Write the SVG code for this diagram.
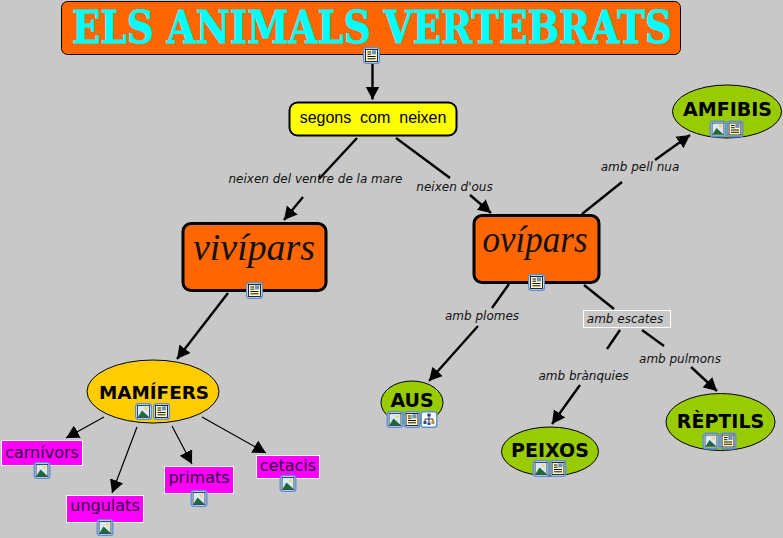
<svg xmlns="http://www.w3.org/2000/svg" xmlns:xlink="http://www.w3.org/1999/xlink" width="783" height="538" viewBox="0 0 783 538">
<style>
.lk{fill:none;stroke:#000;stroke-width:2.4}
.th{fill:none;stroke:#000;stroke-width:1.2}
.lb{font:italic 12px "DejaVu Sans",sans-serif;fill:#111;text-anchor:middle}
.ov{font:bold 19px "DejaVu Sans",sans-serif;fill:#000;text-anchor:middle}
.pk{fill:#f0f;stroke:#fff;stroke-width:1}
.pt{font:16px "DejaVu Sans",sans-serif;fill:#30003a;text-anchor:middle}
.gr{fill:#99cc00;stroke:#000;stroke-width:1}
.sc{font:italic 38px "Liberation Serif",serif;fill:#111;text-anchor:middle}
</style>
<defs>
<marker id="a" markerUnits="userSpaceOnUse" markerWidth="15" markerHeight="16" refX="13" refY="8" orient="auto"><path d="M0 1L13 8L0 15z" fill="#000"/></marker>
<g id="bx"><rect x=".7" y=".7" width="15.6" height="15.6" rx="2.5" fill="#fff" stroke="#5a8fd8" stroke-width="1.4"/></g>
<g id="im"><use xlink:href="#bx"/><rect x="2.500" y="2.500" width="12" height="12" fill="#d8e8f8" stroke="#123" stroke-width=".8"/><circle cx="10.800" cy="5.500" r="1.600" fill="#f0d860"/><path d="M3 14L7 7.500L14 14z" fill="#1f6a35"/></g>
<g id="dc"><use xlink:href="#bx"/><rect x="2.500" y="2.500" width="12" height="12" fill="#fff8c8" stroke="#111" stroke-width=".9"/><path d="M4.500 5H8M4.500 7.200H8M4.500 9.500H12.500M4.500 11.800H12.500" stroke="#111" stroke-width="1"/><rect x="8.800" y="3.400" width="4.200" height="4" fill="#6a90c0"/></g>
<g id="mp"><use xlink:href="#bx"/><path d="M8.500 5V8M4.500 10V8H12.500V10M8.500 8V12" stroke="#223" stroke-width=".9" fill="none"/><rect x="6.800" y="2.600" width="3.400" height="2.800" fill="#2a4a9a"/><rect x="3" y="10" width="3" height="3" fill="#2a4a9a"/><rect x="11" y="10" width="3" height="3" fill="#c0903a"/><rect x="7" y="11.500" width="3" height="2.500" fill="#2a4a9a"/></g>
</defs>
<rect width="783" height="538" fill="#c8c8c8"/>
<g id="connectors">
<path class="lk" marker-end="url(#a)" d="M372.500 64V99.500"/>
<path class="lk" d="M357 138L319 179"/>
<path class="lk" marker-end="url(#a)" d="M303 197L284 220"/>
<path class="lk" d="M396 138L450 178"/>
<path class="lk" marker-end="url(#a)" d="M470 195L491 213"/>
<path class="lk" d="M582 214L622 182"/>
<path class="lk" marker-end="url(#a)" d="M655 160L690 135"/>
<path class="lk" marker-end="url(#a)" d="M228 293L177 359"/>
<path class="lk" d="M509 284L492 308"/>
<path class="lk" marker-end="url(#a)" d="M478 326L429 381"/>
<path class="lk" d="M584 285L614 309"/>
<path class="lk" d="M620 330L607 349"/>
<path class="lk" marker-end="url(#a)" d="M580 385L552 424"/>
<path class="lk" d="M642 330L664 346"/>
<path class="lk" marker-end="url(#a)" d="M691 367L717 391"/>
<path class="th" marker-end="url(#a)" d="M104 417L66 438"/>
<path class="th" marker-end="url(#a)" d="M137 427L112 493"/>
<path class="th" marker-end="url(#a)" d="M172 426L192 464"/>
<path class="th" marker-end="url(#a)" d="M202 417L266 453"/>
</g>
<g id="labels">
<text class="lb" x="315.500" y="183">neixen del ventre de la mare</text>
<text class="lb" x="454.500" y="191">neixen d'ous</text>
<text class="lb" x="640" y="171">amb pell nua</text>
<text class="lb" x="482" y="320">amb plomes</text>
<g id="escates"><rect x="583.500" y="310.500" width="87" height="17" fill="#c8c8c8" stroke="#fff" stroke-width="1"/><text class="lb" x="625" y="323">amb escates</text></g>
<text class="lb" x="583.500" y="380">amb brànquies</text>
<text class="lb" x="680" y="363">amb pulmons</text>
</g>
<g id="title"><rect x="61.500" y="1.500" width="619" height="53" rx="6" fill="#ff6600" stroke="#000" stroke-width="1"/>
<text x="72" y="43" font-family="'DejaVu Serif',serif" font-weight="bold" font-size="44" fill="#00ffff" stroke="#00ffff" stroke-width=".8" textLength="600" lengthAdjust="spacingAndGlyphs">ELS ANIMALS VERTEBRATS</text>
<use xlink:href="#dc" x="363" y="47"/></g>
<g id="segons"><rect x="289.500" y="102.500" width="167" height="33" rx="8" fill="#ffff00" stroke="#000" stroke-width="2"/>
<text x="373" y="123" font-family="'Liberation Sans',sans-serif" font-size="16" fill="#000" text-anchor="middle" xml:space="preserve">segons  com  neixen</text></g>
<g id="vivipars"><rect x="183" y="223.500" width="143" height="67" rx="8" fill="#ff6600" stroke="#000" stroke-width="3"/>
<text class="sc" x="254" y="260" textLength="122" lengthAdjust="spacingAndGlyphs">vivípars</text>
<use xlink:href="#dc" x="246" y="282"/></g>
<g id="ovipars"><rect x="474" y="215.500" width="125" height="67" rx="8" fill="#ff6600" stroke="#000" stroke-width="3"/>
<text class="sc" x="535" y="252" textLength="105" lengthAdjust="spacingAndGlyphs">ovípars</text>
<use xlink:href="#dc" x="528" y="274"/></g>
<g id="amfibis"><ellipse class="gr" cx="727" cy="111.500" rx="54.500" ry="26.500"/><text class="ov" x="727.500" y="116">AMFIBIS</text><use xlink:href="#im" x="709.500" y="120.500"/><use xlink:href="#dc" x="726.500" y="120.500"/></g>
<g id="mamifers"><ellipse cx="153" cy="391.500" rx="66" ry="31.500" fill="#ffcc00" stroke="#000" stroke-width="1"/><text class="ov" style="font-size:18.400px" x="154" y="399">MAMÍFERS</text><use xlink:href="#im" x="135" y="403"/><use xlink:href="#dc" x="153" y="403"/></g>
<g id="aus"><ellipse class="gr" cx="412" cy="402.500" rx="31" ry="21.500"/><text class="ov" x="412" y="407">AUS</text><use xlink:href="#im" x="386.500" y="411"/><use xlink:href="#dc" x="403.500" y="411"/><use xlink:href="#mp" x="420.500" y="411"/></g>
<g id="peixos"><ellipse class="gr" cx="550" cy="451.500" rx="48.500" ry="24.500"/><text class="ov" x="550" y="456.500">PEIXOS</text><use xlink:href="#im" x="532.500" y="460"/><use xlink:href="#dc" x="549.500" y="460"/></g>
<g id="reptils"><ellipse class="gr" cx="720.500" cy="422" rx="54.500" ry="28.500"/><text class="ov" x="720.500" y="428">RÈPTILS</text><use xlink:href="#im" x="702.500" y="432.500"/><use xlink:href="#dc" x="719.500" y="432.500"/></g>
<g id="carnivors"><rect class="pk" x="1.500" y="440.500" width="81" height="25"/><text class="pt" x="42" y="458">carnívors</text><use xlink:href="#im" x="33.500" y="462"/></g>
<g id="ungulats"><rect class="pk" x="66.500" y="495.500" width="77" height="27"/><text class="pt" x="105" y="511">ungulats</text><use xlink:href="#im" x="96.500" y="519"/></g>
<g id="primats"><rect class="pk" x="164.500" y="466.500" width="69" height="27"/><text class="pt" x="199" y="483">primats</text><use xlink:href="#im" x="190.500" y="490"/></g>
<g id="cetacis"><rect class="pk" x="256.500" y="455.500" width="63" height="23"/><text class="pt" x="288" y="471">cetacis</text><use xlink:href="#im" x="279.500" y="475"/></g>
</svg>
